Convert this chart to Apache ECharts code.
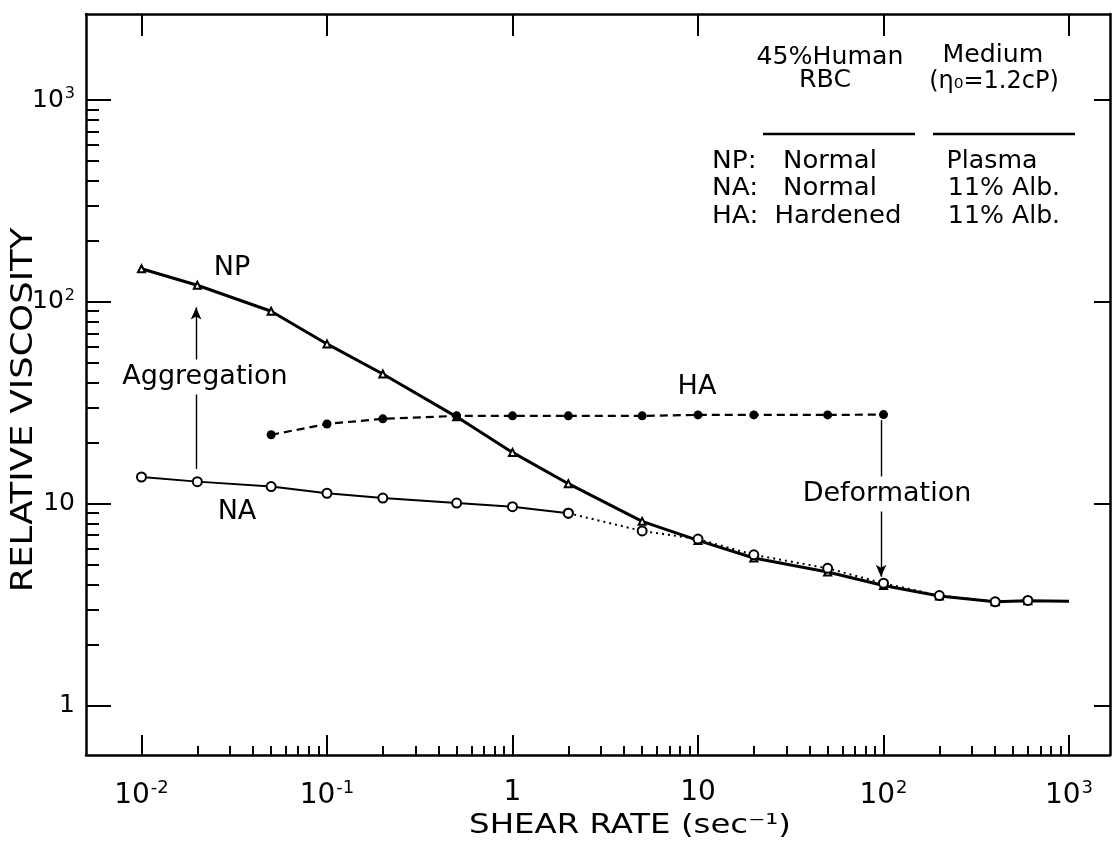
<!DOCTYPE html>
<html><head><meta charset="utf-8">
<script src="https://cdn.jsdelivr.net/npm/echarts@6/dist/echarts.min.js"></script>
<style>html,body{margin:0;padding:0;background:#fff}#c{width:1118px;height:847px}</style>
</head><body><div id="c"></div>
<script>
// ---- data ----
const npShear = [0.01, 0.02, 0.05, 0.1, 0.2, 0.5, 1, 2, 5, 10, 20, 50, 100, 200, 400, 600, 1000];
const npVisc  = [146, 121, 90, 62, 44, 27, 18, 12.6, 8.2, 6.6, 5.4, 4.6, 3.95, 3.5, 3.28, 3.32, 3.3];
const naShear = [0.01, 0.02, 0.05, 0.1, 0.2, 0.5, 1, 2, 5, 10, 20, 50, 100, 200, 400, 600];
const naVisc  = [13.6, 12.9, 12.2, 11.3, 10.7, 10.1, 9.7, 9.0, 7.35, 6.7, 5.6, 4.8, 4.05, 3.52, 3.28, 3.33];
const haShear = [0.05, 0.1, 0.2, 0.5, 1, 2, 5, 10, 20, 50, 100];
const haVisc  = [22, 24.9, 26.4, 27.3, 27.3, 27.3, 27.3, 27.6, 27.6, 27.6, 27.7];
const naSolidUntil = 2; // NA drawn solid up to this shear rate, dotted beyond

const xMajorTicks = [0.01, 0.1, 1, 10, 100, 1000];
const xTickLabels = ['10{sup|-2}', '10{sup|-1}', '1', '10', '10{sup|2}', '10{sup|3}'];
const yMajorTicks = [1, 10, 100, 1000];
const yTickLabels = ['1', '10', '10{sup|2}', '10{sup|3}'];
const minorMultipliers = [2, 3, 4, 5, 6, 7, 8, 9];

const aggregationArrow = { x: 0.0197, from: 14.9, to: 94 };
const deformationArrow = { x: 97, from: 26, to: 4.36 };

const legendHeader = [['45%Human', 'RBC'], ['Medium', '(η₀=1.2cP)']];
const legendRows = [['NP:', 'Normal', 'Plasma'], ['NA:', 'Normal', '11% Alb.'], ['HA:', 'Hardened', '11% Alb.']];

// ---- chart ----
const FONT = 'DejaVu Sans';
const X_MIN = Math.pow(10, -2.299), X_MAX = Math.pow(10, 3.221);
const Y_MIN = Math.pow(10, -0.243), Y_MAX = Math.pow(10, 3.426);

function minorOf(majors) {
  const out = [];
  majors.slice(0, -1).forEach(m => minorMultipliers.forEach(k => out.push(+(m * k).toPrecision(6))));
  return out;
}
function labelFor(ticks, labels) {
  return v => {
    const i = ticks.findIndex(t => Math.abs(Math.log10(t) - Math.log10(v)) < 1e-6);
    return i >= 0 ? labels[i] : '';
  };
}
const richSupX = { sup: { fontSize: 18, fontFamily: 'DejaVu Sans', color: '#000', verticalAlign: 'top', padding: [0, 0, 16, 1] } };
const richSupY = { sup: { fontSize: 16, fontFamily: 'DejaVu Sans', color: '#000', verticalAlign: 'top', padding: [0, 0, 13, 1] } };
const black = '#000';

const chart = echarts.init(document.getElementById('c'), null, { renderer: 'canvas' });

const baseX = { type: 'log', logBase: 10, min: X_MIN, max: X_MAX, gridIndex: 0, splitLine: { show: false } };
const baseY = { type: 'log', logBase: 10, min: Y_MIN, max: Y_MAX, gridIndex: 0, splitLine: { show: false } };

const naSplit = naShear.findIndex(x => x === naSolidUntil);
const naPts = naShear.map((x, i) => [x, naVisc[i]]);

const option = {
  animation: false,
  backgroundColor: '#fff',
  grid: { left: 86, right: 8, top: 14, bottom: 92 },
  xAxis: [
    Object.assign({}, baseX, {
      position: 'bottom',
      axisLine: { show: true, lineStyle: { color: black, width: 2.5 } },
      axisTick: { show: true, inside: true, length: 20, customValues: xMajorTicks, lineStyle: { color: black, width: 2 } },
      axisLabel: { show: true, customValues: xMajorTicks, formatter: labelFor(xMajorTicks, xTickLabels), margin: 24,
        color: black, fontSize: 28, fontFamily: FONT, rich: richSupX }
    }),
    Object.assign({}, baseX, {
      position: 'bottom',
      axisLine: { show: false },
      axisTick: { show: true, inside: true, length: 9, customValues: minorOf(xMajorTicks), lineStyle: { color: black, width: 2 } },
      axisLabel: { show: false }
    }),
    Object.assign({}, baseX, {
      position: 'top',
      axisLine: { show: true, lineStyle: { color: black, width: 2.5 } },
      axisTick: { show: true, inside: true, length: 22, customValues: xMajorTicks, lineStyle: { color: black, width: 2 } },
      axisLabel: { show: false }
    })
  ],
  yAxis: [
    Object.assign({}, baseY, {
      position: 'left',
      axisLine: { show: true, lineStyle: { color: black, width: 2.5 } },
      axisTick: { show: true, inside: true, length: 25, customValues: yMajorTicks, lineStyle: { color: black, width: 2 } },
      axisLabel: { show: true, customValues: yMajorTicks, formatter: labelFor(yMajorTicks, yTickLabels), margin: 11,
        color: black, fontSize: 25, fontFamily: FONT, rich: richSupY }
    }),
    Object.assign({}, baseY, {
      position: 'left',
      axisLine: { show: false },
      axisTick: { show: true, inside: true, length: 13, customValues: minorOf(yMajorTicks), lineStyle: { color: black, width: 2 } },
      axisLabel: { show: false }
    }),
    Object.assign({}, baseY, {
      position: 'right',
      axisLine: { show: true, lineStyle: { color: black, width: 2.5 } },
      axisTick: { show: true, inside: true, length: 16, customValues: yMajorTicks, lineStyle: { color: black, width: 2 } },
      axisLabel: { show: false }
    })
  ],
  series: [
    {
      name: 'NP', type: 'line', xAxisIndex: 0, yAxisIndex: 0, z: 3,
      data: npShear.map((x, i) => [x, npVisc[i]]),
      lineStyle: { color: black, width: 3 },
      symbol: 'emptyTriangle',
      symbolSize: (v, p) => (p.dataIndex === npShear.length - 1 ? 0 : 7),
      itemStyle: { color: black, borderColor: black, borderWidth: 1.5 }
    },
    {
      name: 'NA', type: 'line', xAxisIndex: 0, yAxisIndex: 0, z: 4,
      data: naPts.slice(0, naSplit + 1),
      lineStyle: { color: black, width: 2 },
      symbol: 'emptyCircle', symbolSize: 9,
      itemStyle: { color: black, borderColor: black, borderWidth: 1.8 }
    },
    {
      name: 'NA ', type: 'line', xAxisIndex: 0, yAxisIndex: 0, z: 4,
      data: naPts.slice(naSplit),
      lineStyle: { color: black, width: 2, type: [2, 4] },
      symbol: 'emptyCircle', symbolSize: 9,
      itemStyle: { color: black, borderColor: black, borderWidth: 1.8 }
    },
    {
      name: 'HA', type: 'line', xAxisIndex: 0, yAxisIndex: 0, z: 4,
      data: haShear.map((x, i) => [x, haVisc[i]]),
      lineStyle: { color: black, width: 2.2, type: [8, 5] },
      symbol: 'circle', symbolSize: 9,
      itemStyle: { color: black },
      markLine: {
        silent: true, animation: false,
        symbol: ['none', 'arrow'], symbolSize: [8, 12],
        lineStyle: { color: black, width: 1.4, type: 'solid' },
        label: { show: false },
        data: [
          [{ coord: [aggregationArrow.x, aggregationArrow.from] }, { coord: [aggregationArrow.x, aggregationArrow.to] }],
          [{ coord: [deformationArrow.x, deformationArrow.from] }, { coord: [deformationArrow.x, deformationArrow.to] }]
        ]
      }
    }
  ],
  graphic: []
};

function txt(text, x, y, size, opts, extra) {
  return Object.assign({
    type: 'text', x: x, y: y, z: 100, silent: true,
    style: Object.assign({ text: text, fill: black, font: size + 'px "' + FONT + '"', align: 'center', verticalAlign: 'middle' }, opts || {})
  }, extra || {});
}
const g = option.graphic;
// curve labels & annotations
g.push(txt('NP', 232, 268, 27));
g.push(txt('HA', 697, 387, 27));
g.push(txt('NA', 237, 512, 27));
g.push(txt('Aggregation', 205, 377, 27, { backgroundColor: '#fff', padding: [4, 2, 4, 2] }));
g.push(txt('Deformation', 887, 494, 27, { backgroundColor: '#fff', padding: [4, 2, 4, 2] }));
// axis titles
g.push(txt('SHEAR RATE (sec⁻¹)', 630, 826, 27, null, { scaleX: 1.2 }));
g.push(txt('RELATIVE VISCOSITY', 24, 410, 30, null, { rotation: Math.PI / 2, scaleX: 1.18 }));
// legend table
const LF = 24;
g.push(txt(legendHeader[0][0], 830, 58, LF, null, { scaleX: 1.05 }));
g.push(txt(legendHeader[0][1], 825, 81, LF, null, { scaleX: 1.05 }));
g.push(txt(legendHeader[1][0], 993, 56, LF, null, { scaleX: 1.05 }));
g.push(txt(legendHeader[1][1], 994, 82, LF, null, { scaleX: 1.0 }));
g.push({ type: 'line', z: 100, silent: true, shape: { x1: 763, y1: 134, x2: 915, y2: 134 }, style: { stroke: black, lineWidth: 2.5 } });
g.push({ type: 'line', z: 100, silent: true, shape: { x1: 933, y1: 134, x2: 1075, y2: 134 }, style: { stroke: black, lineWidth: 2.5 } });
const rowY = [162, 189, 217];
const col1X = [830, 830, 838];
legendRows.forEach((r, i) => {
  g.push(txt(r[0], 712, rowY[i], LF, { align: 'left' }, { scaleX: 1.1 }));
  g.push(txt(r[1], col1X[i], rowY[i], LF, null, { scaleX: 1.08 }));
  g.push(txt(r[2], i === 0 ? 992 : 1004, rowY[i], LF, null, { scaleX: 1.05 }));
});

chart.setOption(option);
</script>
</body></html>
